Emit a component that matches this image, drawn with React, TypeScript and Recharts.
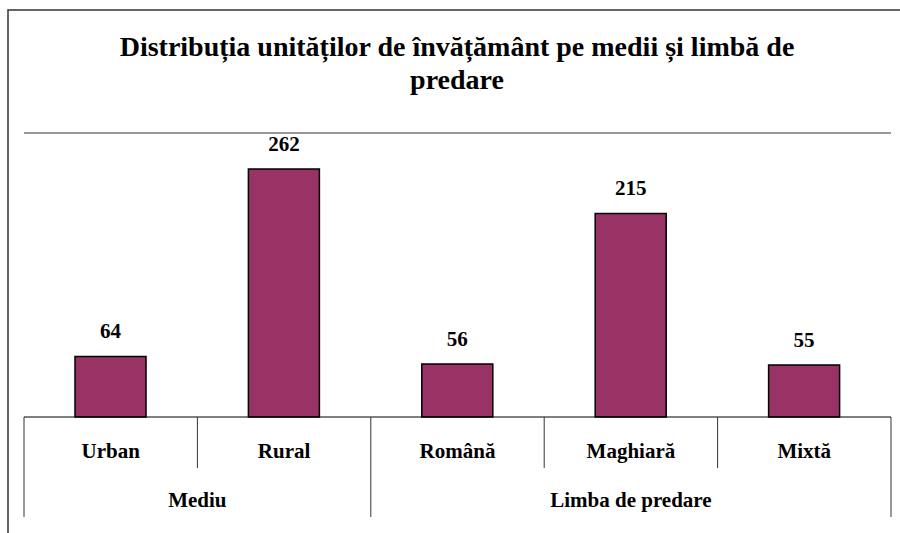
import React from "react";
import { BarChart, Bar, XAxis, YAxis, LabelList, ReferenceLine } from "recharts";

const categories = ["Urban", "Rural", "Română", "Maghiară", "Mixtă"];
const unitCounts = [64, 262, 56, 215, 55];
const groups = [
  { label: "Mediu", span: 2 },
  { label: "Limba de predare", span: 3 },
];
const titleLines = [
  "Distribuția unităților de învățământ pe medii și limbă de",
  "predare",
];
const yDomain = [0, 300];

const data = categories.map((name, i) => ({ name, value: unitCounts[i] }));

// category index -> group that starts there
const groupAt: Record<number, { label: string; span: number }> = {};
let start = 0;
groups.forEach((g) => {
  groupAt[start] = g;
  start += g.span;
});

const FONT = "Liberation Serif, Times New Roman, serif";

function CategoryTick(props: any) {
  const { x, y, payload, index } = props;
  const half = payload?.offset ?? 86.7;
  const i = payload?.index ?? index;
  const g = groupAt[i];
  const left = x - half;
  return (
    <g>
      <line x1={left} y1={y} x2={left} y2={y + (g ? 100 : 51)} stroke="#333" />
      {i === categories.length - 1 && (
        <line x1={x + half} y1={y} x2={x + half} y2={y + 100} stroke="#333" />
      )}
      <text
        x={x}
        y={y + 41}
        textAnchor="middle"
        style={{ fontFamily: FONT }}
        fontWeight="bold"
        fontSize={21}
        fill="#000"
      >
        {payload.value}
      </text>
      {g && (
        <text
          x={left + g.span * half}
          y={y + 90}
          textAnchor="middle"
          style={{ fontFamily: FONT }}
          fontWeight="bold"
          fontSize={21}
          fill="#000"
        >
          {g.label}
        </text>
      )}
    </g>
  );
}

export default function App() {
  return (
    <div
      style={{
        position: "absolute",
        left: 0,
        top: 0,
        width: 900,
        height: 533,
        overflow: "hidden",
        background: "#fff",
        fontFamily: FONT,
      }}
    >
      <BarChart
        width={900}
        height={533}
        data={data}
        margin={{ top: 133, right: 9, bottom: 0, left: 24 }}
        style={{ fontFamily: FONT }}
      >
        <XAxis
          dataKey="name"
          height={116}
          interval={0}
          tickSize={0}
          tickMargin={0}
          tickLine={false}
          axisLine={{ stroke: "#000" }}
          tick={(p: any) => <CategoryTick {...p} />}
        />
        <YAxis
          domain={yDomain}
          width={0}
          tick={false}
          tickLine={false}
          axisLine={{ stroke: "#333" }}
        />
        <YAxis
          yAxisId="right"
          orientation="right"
          domain={yDomain}
          width={0}
          tick={false}
          tickLine={false}
          axisLine={{ stroke: "#333" }}
        />
        <ReferenceLine y={yDomain[1]} stroke="#333" ifOverflow="extendDomain" />
        <Bar
          dataKey="value"
          fill="#993366"
          stroke="#000"
          strokeWidth={1.5}
          barSize={71}
          isAnimationActive={false}
        >
          <LabelList
            dataKey="value"
            position="top"
            offset={18}
            style={{ fontFamily: FONT }}
            fontWeight="bold"
            fontSize={21}
            fill="#000"
          />
        </Bar>
      </BarChart>
      <svg
        width={900}
        height={533}
        style={{ position: "absolute", left: 0, top: 0, pointerEvents: "none" }}
      >
        <path d="M8 533 V10 H900" fill="none" stroke="#333" strokeWidth={1.5} />
        {titleLines.map((t, i) => (
          <text
            key={i}
            x={457}
            y={56 + i * 33}
            textAnchor="middle"
            style={{ fontFamily: FONT }}
            fontWeight="bold"
            fontSize={28}
            fill="#000"
          >
            {t}
          </text>
        ))}
      </svg>
    </div>
  );
}
